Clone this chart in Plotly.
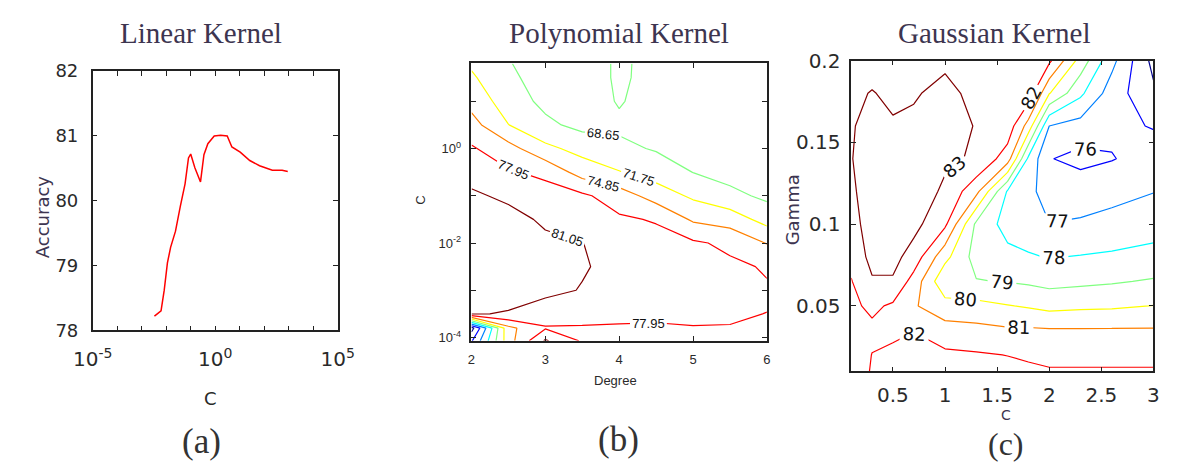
import plotly.graph_objects as go

W, H = 1185, 469

# ---------------- (a) Linear kernel: accuracy vs C ----------------
lin_c_exp = [-2.48, -2.21, -2.08, -1.95, -1.82, -1.62, -1.42, -1.23, -1.09, -1.00,
             -0.83, -0.60, -0.46, -0.30, -0.04, 0.22, 0.49, 0.68, 1.02, 1.41,
             1.81, 2.33, 2.73, 2.96]
lin_acc = [78.22, 78.30, 78.62, 79.04, 79.28, 79.53, 79.92, 80.26, 80.66, 80.72,
           80.51, 80.29, 80.71, 80.88, 81.00, 81.01, 81.00, 80.83, 80.75, 80.62,
           80.54, 80.47, 80.47, 80.45]

# ---------------- (b) Polynomial kernel: accuracy over (degree, C) ----------------
poly_degree = [2, 2.5, 3, 3.5, 4, 4.5, 5, 5.5, 6]
poly_c_exp = [-4.07, -3.8, -3.5, -3.0, -2.5, -2.0, -1.5, -1.0, -0.5, 0.0, 0.5, 1.0, 1.5, 1.8]
poly_acc = [
    [59.0, 73.5, 81.4, 77.6, 77.5, 77.5, 77.5, 77.6, 77.6],
    [55.0, 74.0, 77.7, 77.8, 77.8, 77.8, 77.9, 77.9, 77.75],
    [81.3, 80.8, 79.5, 78.6, 78.3, 78.2, 78.2, 78.1, 77.93],
    [82.0, 82.5, 81.8, 80.9, 79.6, 79.0, 78.7, 78.4, 78.2],
    [82.5, 83.0, 82.3, 81.3, 80.2, 79.4, 78.9, 78.5, 77.7],
    [82.5, 82.8, 81.6, 81.1, 79.8, 79.0, 78.4, 77.3, 74.7],
    [82.0, 82.0, 80.6, 79.6, 78.4, 77.7, 74.4, 73.4, 70.6],
    [81.5, 80.5, 79.3, 78.5, 76.4, 73.5, 71.2, 69.5, 68.0],
    [80.0, 78.3, 77.2, 73.5, 71.9, 70.3, 68.6, 67.5, 66.8],
    [78.3, 76.0, 72.5, 70.7, 69.3, 68.4, 67.2, 66.6, 66.2],
    [76.0, 71.8, 69.3, 67.8, 68.1, 67.5, 66.7, 66.2, 66.0],
    [73.8, 70.2, 67.9, 67.0, 68.9, 67.3, 66.5, 66.0, 65.9],
    [72.2, 69.2, 67.5, 66.8, 69.2, 67.5, 66.4, 66.0, 65.9],
    [71.3, 68.8, 67.4, 66.8, 69.2, 67.6, 66.4, 66.0, 65.9],
]
poly_levels = [56.25, 59.35, 62.45, 65.55, 68.65, 71.75, 74.85, 77.95, 81.05]

# ---------------- (c) Gaussian kernel: accuracy over (C, gamma) ----------------
rbf_c = [0.1, 0.3, 0.5, 0.7, 1.0, 1.3, 1.6, 1.8, 2.0, 2.3, 2.6, 3.0]
rbf_gamma = [0.01, 0.02, 0.035, 0.05, 0.065, 0.08, 0.1, 0.12, 0.14, 0.16, 0.18, 0.2]
rbf_acc = [
    [81.3, 82.1, 82.3, 82.5, 82.5, 82.4, 82.3, 82.2, 82.1, 82.1, 82.1, 82.1],
    [81.4, 82.02, 82.15, 82.3, 82.2, 82.1, 81.98, 81.85, 81.7, 81.7, 81.7, 81.7],
    [81.6, 81.8, 81.85, 81.98, 81.4, 81.3, 81.15, 81.15, 81.1, 81.1, 81.1, 81.1],
    [81.8, 82.2, 81.85, 81.1, 80.4, 80.3, 80.05, 79.9, 79.7, 79.8, 79.85, 80.02],
    [81.95, 82.9, 82.9, 81.6, 79.2, 79.05, 78.95, 78.85, 78.7, 78.8, 78.9, 79.1],
    [82.3, 83.3, 83.3, 82.6, 80.3, 78.6, 78.3, 78.1, 77.95, 78.05, 78.15, 78.3],
    [82.6, 83.5, 83.5, 83.3, 82.2, 78.8, 77.6, 77.4, 77.02, 77.1, 77.3, 77.6],
    [82.8, 83.6, 83.5, 83.5, 82.85, 81.3, 77.9, 77.3, 76.5, 76.6, 76.7, 76.97],
    [82.95, 83.6, 83.4, 83.4, 83.15, 82.9, 81.5, 77.8, 76.05, 75.7, 75.95, 76.4],
    [82.9, 83.4, 83.1, 83.2, 83.4, 82.95, 82.6, 80.6, 77.0, 76.6, 76.2, 75.95],
    [82.8, 83.05, 82.8, 82.9, 83.3, 82.7, 82.8, 82.6, 80.05, 78.2, 76.5, 75.2],
    [82.5, 82.6, 82.6, 82.6, 82.8, 82.4, 82.6, 82.8, 82.2, 79.6, 77.3, 74.7],
]
rbf_levels = [75, 76, 77, 78, 79, 80, 81, 82, 83]

titles = ["Linear Kernel", "Polynomial Kernel", "Gaussian Kernel"]
panel_tags = ["(a)", "(b)", "(c)"]

# jet colour for each of the nine contour levels, lowest to highest
level_colors = ["rgb(0,0,143)", "rgb(0,0,255)", "rgb(0,128,255)", "rgb(0,255,255)",
                "rgb(128,255,128)", "rgb(255,255,0)", "rgb(255,128,0)", "rgb(255,0,0)",
                "rgb(128,0,0)"]

TXT = "#2a2a2a"
HEAD = "#3d3550"


def px_x(p):
    return p / W


def px_y(p):
    return 1 - p / H


fig = go.Figure()

fig.add_trace(go.Scatter(
    x=[10 ** e for e in lin_c_exp], y=lin_acc, mode="lines",
    line=dict(color="#ff0000", width=1.5), xaxis="x", yaxis="y", showlegend=False))


def add_level_contours(x, y, z, levels, fmt, font, xa, ya):
    # one trace per level so every isoline keeps its own jet colour
    for lev, col in zip(levels, level_colors):
        fig.add_trace(go.Contour(
            x=x, y=y, z=z, xaxis=xa, yaxis=ya, showscale=False,
            colorscale=[[0, col], [1, col]], autocontour=False,
            contours=dict(start=lev, end=lev + 1e-6, size=1, coloring="lines",
                          showlabels=True, labelformat=fmt, labelfont=font),
            line=dict(width=1.2, smoothing=0, color=col), hoverinfo="skip"))


add_level_contours(poly_degree, [10 ** e for e in poly_c_exp], poly_acc, poly_levels,
                   ".2f", dict(family="Liberation Sans", size=13, color="#111"), "x2", "y2")
add_level_contours(rbf_c, rbf_gamma, rbf_acc, rbf_levels,
                   ".0f", dict(family="DejaVu Sans", size=18, color="#111"), "x3", "y3")

# panel boxes in pixels: (left, right, top, bottom)
boxes = [(75, 328, 62, 334), (466, 771, 54, 345), (858, 1170, 51, 377)]


def axis_common(font):
    return dict(showline=True, linecolor="#222", linewidth=1.5, mirror="ticks",
                ticks="inside", ticklen=5, tickcolor="#222", tickwidth=1,
                showgrid=False, zeroline=False, tickfont=font)


fa_x = dict(family="DejaVu Sans", size=20, color=TXT)
fa_y = dict(family="DejaVu Sans", size=18, color=TXT)
fb = dict(family="Liberation Sans", size=13, color=TXT)
fc = dict(family="DejaVu Sans", size=20, color=TXT)

sup = {-5: "10<sup>-5</sup>", 0: "10<sup>0</sup>", 5: "10<sup>5</sup>"}
dec_a = list(range(-5, 6))
supb = {0: "10<sup>0</sup>", -2: "10<sup>-2</sup>", -4: "10<sup>-4</sup>"}
dec_b = list(range(-4, 2))

layout = dict(
    width=W, height=H, autosize=False, margin=dict(l=0, r=0, t=0, b=0),
    paper_bgcolor="white", plot_bgcolor="white", showlegend=False,
    xaxis=dict(**axis_common(fa_x), type="log", range=[-5, 5],
               domain=[px_x(boxes[0][0]), px_x(boxes[0][1])], anchor="y",
               tickvals=[10 ** k for k in dec_a],
               ticktext=[sup.get(k, "") for k in dec_a], ticklabelstandoff=10),
    yaxis=dict(**axis_common(fa_y), range=[78, 82], dtick=1,
               domain=[px_y(boxes[0][3]), px_y(boxes[0][2])], anchor="x",
               ticklabelstandoff=9),
    xaxis2=dict(**axis_common(fb), range=[2, 6], dtick=1,
                domain=[px_x(boxes[1][0]), px_x(boxes[1][1])], anchor="y2",
                ticklabelstandoff=6),
    yaxis2=dict(**axis_common(fb), type="log", range=[-4.07, 1.8],
                domain=[px_y(boxes[1][3]), px_y(boxes[1][2])], anchor="x2",
                tickvals=[10 ** k for k in dec_b],
                ticktext=[supb.get(k, "") for k in dec_b], ticklabelstandoff=6),
    xaxis3=dict(**axis_common(fc), range=[0.1, 3], tickvals=[0.5, 1, 1.5, 2, 2.5, 3],
                ticktext=["0.5", "1", "1.5", "2", "2.5", "3"],
                domain=[px_x(boxes[2][0]), px_x(boxes[2][1])], anchor="y3",
                ticklabelstandoff=5),
    yaxis3=dict(**axis_common(fc), range=[0.01, 0.2], tickvals=[0.05, 0.1, 0.15, 0.2],
                ticktext=["0.05", "0.1", "0.15", "0.2"],
                domain=[px_y(boxes[2][3]), px_y(boxes[2][2])], anchor="x3",
                ticklabelstandoff=5),
)
fig.update_layout(**layout)

ann = []


def text(x, y, s, size, family, color, angle=0):
    ann.append(dict(x=px_x(x), y=px_y(y), xref="paper", yref="paper", text=s,
                    showarrow=False, xanchor="center", yanchor="middle",
                    textangle=angle, font=dict(family=family, size=size, color=color)))


serif = "Liberation Serif"
for cx, s in zip([187, 618, 1005], titles):
    text(cx, 22, s, 29, serif, HEAD)
for cx, cy, s, fs in zip([187, 618, 1018], [451, 449, 453], panel_tags, [35, 35, 32]):
    text(cx, cy, s, fs, serif, "#333")

# axis titles
text(197, 405, "C", 18, "DejaVu Sans", TXT)
text(24, 215, "Accuracy", 18, "DejaVu Sans", "#3d3550", -90)
text(615, 387, "Degree", 13, "Liberation Sans", TXT)
text(414, 198, "C", 13, "Liberation Sans", TXT, -90)
text(1018, 423, "C", 14, "DejaVu Sans", "#3d3550")
text(797, 208, "Gamma", 18, "DejaVu Sans", "#3d3550", -90)

fig.update_layout(annotations=ann)
fig.write_html("out.html")
